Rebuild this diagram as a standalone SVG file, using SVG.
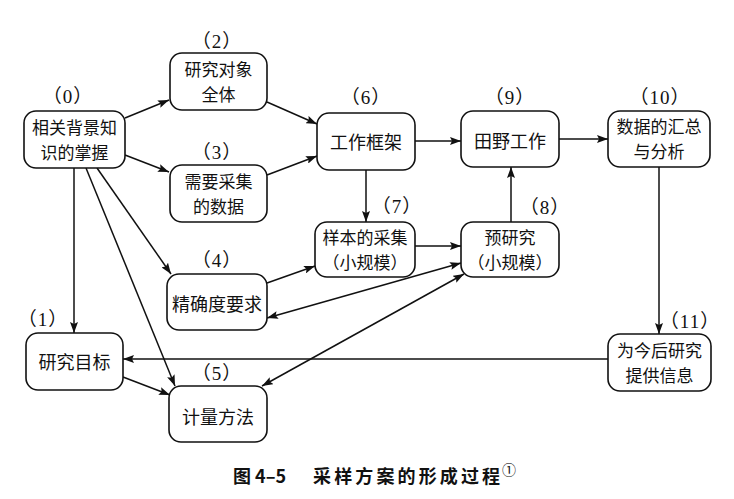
<svg xmlns="http://www.w3.org/2000/svg" width="734" height="499" viewBox="0 0 734 499">
<style>
.box{fill:#fff;stroke:#111;stroke-width:1.6}
.t{font-family:"Noto Sans CJK SC","Noto Sans CJK JP",sans-serif;font-size:18px;fill:#111;text-anchor:middle}
.t2{font-size:17px}
.lb{font-family:"Liberation Serif","Noto Sans CJK SC",serif;font-size:19px;fill:#111;text-anchor:middle;letter-spacing:1px}
.e{stroke:#111;stroke-width:1.5;fill:none;marker-end:url(#ah)}
.b{marker-start:url(#ah)}
.cap{font-family:"Noto Sans CJK SC",sans-serif;font-size:18px;font-weight:bold;fill:#111}
</style>
<defs>
<marker id="ah" markerUnits="userSpaceOnUse" markerWidth="12" markerHeight="8" refX="11" refY="4" orient="auto-start-reverse">
<path d="M0,0 L11,4 L0,8 L2,4 z" fill="#111"/>
</marker>
</defs>
<rect width="734" height="499" fill="#fff"/>
<g id="connectors">
<line class="e" x1="125" y1="118" x2="169" y2="100"/>
<line class="e" x1="125" y1="155" x2="169" y2="172"/>
<line class="e" x1="267" y1="102" x2="317" y2="124"/>
<line class="e" x1="267" y1="175" x2="317" y2="156"/>
<line class="e" x1="415" y1="141" x2="461" y2="141"/>
<line class="e" x1="559" y1="139" x2="608" y2="139"/>
<line class="e" x1="366" y1="170" x2="366" y2="222"/>
<line class="e" x1="511" y1="222" x2="511" y2="167"/>
<line class="e" x1="415" y1="246" x2="461" y2="246"/>
<line class="e" x1="659" y1="167" x2="659" y2="334"/>
<line class="e" x1="608" y1="359" x2="123" y2="359"/>
<line class="e" x1="74" y1="168" x2="74" y2="333"/>
<line class="e" x1="97" y1="168" x2="171" y2="274"/>
<line class="e" x1="86" y1="168" x2="175" y2="386"/>
<line class="e" x1="123" y1="377" x2="170" y2="395"/>
<line class="e" x1="267" y1="283" x2="315" y2="266"/>
<line class="e b" x1="267" y1="318" x2="461" y2="263"/>
<line class="e b" x1="262" y1="386" x2="464" y2="274"/>
</g>
<g id="n0"><rect class="box" x="24" y="111" width="101" height="57" rx="12"/><text class="t t2" x="74.5" y="133.5">相关背景知</text><text class="t t2" x="74.5" y="158.5">识的掌握</text><text class="lb" x="68" y="103">（0）</text></g>
<g id="n2"><rect class="box" x="170" y="53" width="97" height="57" rx="12"/><text class="t t2" x="218.5" y="75.5">研究对象</text><text class="t t2" x="218.5" y="100.5">全体</text><text class="lb" x="217" y="48">（2）</text></g>
<g id="n3"><rect class="box" x="170" y="165" width="97" height="57" rx="12"/><text class="t t2" x="218.5" y="187.5">需要采集</text><text class="t t2" x="218.5" y="212.5">的数据</text><text class="lb" x="217" y="159">（3）</text></g>
<g id="n6"><rect class="box" x="317" y="113" width="98" height="57" rx="12"/><text class="t" x="366" y="148.5">工作框架</text><text class="lb" x="366" y="104">（6）</text></g>
<g id="n9"><rect class="box" x="461" y="111" width="98" height="56" rx="12"/><text class="t" x="510" y="147.5">田野工作</text><text class="lb" x="510" y="104">（9）</text></g>
<g id="n10"><rect class="box" x="608" y="111" width="102" height="56" rx="12"/><text class="t t2" x="659" y="133">数据的汇总</text><text class="t t2" x="659" y="158">与分析</text><text class="lb" x="660" y="104">（10）</text></g>
<g id="n7"><rect class="box" x="315" y="222" width="100" height="55" rx="12"/><text class="t t2" x="365" y="243.5">样本的采集</text><text class="t t2" x="365" y="268.5">（小规模）</text><text class="lb" x="397" y="213">（7）</text></g>
<g id="n8"><rect class="box" x="461" y="222" width="98" height="55" rx="12"/><text class="t t2" x="510" y="243.5">预研究</text><text class="t t2" x="510" y="268.5">（小规模）</text><text class="lb" x="545" y="214">（8）</text></g>
<g id="n4"><rect class="box" x="167" y="274" width="100" height="56" rx="12"/><text class="t" x="217" y="310.5">精确度要求</text><text class="lb" x="217" y="267">（4）</text></g>
<g id="n1"><rect class="box" x="26" y="333" width="97" height="57" rx="12"/><text class="t" x="74.5" y="368.5">研究目标</text><text class="lb" x="43" y="326">（1）</text></g>
<g id="n5"><rect class="box" x="169" y="386" width="98" height="56" rx="12"/><text class="t" x="218" y="423.5">计量方法</text><text class="lb" x="217" y="380">（5）</text></g>
<g id="n11"><rect class="box" x="608" y="334" width="103" height="57" rx="12"/><text class="t t2" x="659.5" y="356.5">为今后研究</text><text class="t t2" x="659.5" y="381.5">提供信息</text><text class="lb" x="690" y="328">（11）</text></g>
<g id="caption">
<text class="cap" x="233" y="483">图 4–5</text>
<text class="cap" x="313" y="483" textLength="187" lengthAdjust="spacing">采样方案的形成过程</text>
<text x="502" y="475" font-family="Noto Sans CJK SC,sans-serif" font-size="14" fill="#111">①</text>
</g>
</svg>
